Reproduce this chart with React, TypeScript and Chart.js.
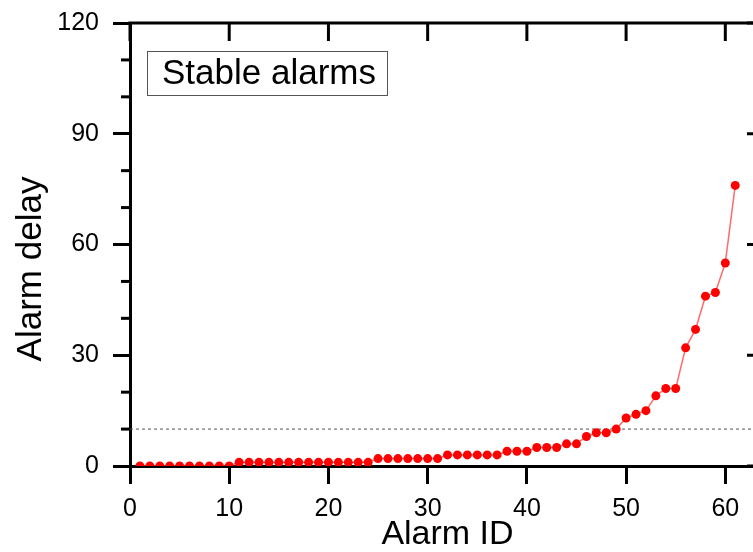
import { useEffect, useRef } from "react";
import { Chart, registerables } from "chart.js";

Chart.register(...registerables);

const alarmIds = [
  1, 2, 3, 4, 5, 6, 7, 8, 9, 10,
  11, 12, 13, 14, 15, 16, 17, 18, 19, 20,
  21, 22, 23, 24, 25, 26, 27, 28, 29, 30,
  31, 32, 33, 34, 35, 36, 37, 38, 39, 40,
  41, 42, 43, 44, 45, 46, 47, 48, 49, 50,
  51, 52, 53, 54, 55, 56, 57, 58, 59, 60,
  61,
];
const alarmDelays = [
  0, 0, 0, 0, 0, 0, 0, 0, 0, 0,
  1, 1, 1, 1, 1, 1, 1, 1, 1, 1,
  1, 1, 1, 1, 2, 2, 2, 2, 2, 2,
  2, 3, 3, 3, 3, 3, 3, 4, 4, 4,
  5, 5, 5, 6, 6, 8, 9, 9, 10, 13,
  14, 15, 19, 21, 21, 32, 37, 46, 47, 55,
  76,
];
const thresholdValue = 10;
const xTicks = [0, 10, 20, 30, 40, 50, 60];
const yTicks = [0, 30, 60, 90, 120];
const yMinorTicks = [10, 20, 40, 50, 70, 80, 100, 110];
const legendText = "Stable alarms";
const xTitle = "Alarm ID";
const yTitle = "Alarm delay";

const FONT = "Arial, 'Liberation Sans', sans-serif";

const framePlugin = {
  id: "frame",
  afterDraw(chart: any) {
    const { ctx, chartArea } = chart;
    const x = chart.scales.x;
    const y = chart.scales.y;
    ctx.save();
    ctx.strokeStyle = "#000";
    ctx.lineWidth = 3;
    // top border
    ctx.beginPath();
    ctx.moveTo(chartArea.left - 1.5, chartArea.top);
    ctx.lineTo(chartArea.right + 1.5, chartArea.top);
    ctx.stroke();
    // right border
    ctx.beginPath();
    ctx.moveTo(chartArea.right, chartArea.top);
    ctx.lineTo(chartArea.right, chartArea.bottom);
    ctx.stroke();
    // top inward ticks
    xTicks.forEach((v) => {
      const px = x.getPixelForValue(v);
      ctx.beginPath();
      ctx.moveTo(px, chartArea.top);
      ctx.lineTo(px, chartArea.top + 18);
      ctx.stroke();
    });
    // right inward ticks
    yTicks.forEach((v) => {
      const py = y.getPixelForValue(v);
      ctx.beginPath();
      ctx.moveTo(chartArea.right, py);
      ctx.lineTo(chartArea.right - 18, py);
      ctx.stroke();
    });
    // left minor outward ticks
    yMinorTicks.forEach((v) => {
      const py = y.getPixelForValue(v);
      ctx.beginPath();
      ctx.moveTo(chartArea.left, py);
      ctx.lineTo(chartArea.left - 9, py);
      ctx.stroke();
    });
    // y axis title
    ctx.fillStyle = "#000";
    ctx.save();
    ctx.translate(31, 269);
    ctx.rotate(-Math.PI / 2);
    ctx.font = `35px ${FONT}`;
    ctx.textAlign = "center";
    ctx.textBaseline = "middle";
    ctx.fillText(yTitle, 0, 0);
    ctx.restore();
    // legend box
    ctx.lineWidth = 1;
    ctx.strokeStyle = "#555";
    ctx.strokeRect(147.5, 51.5, 240, 44);
    ctx.font = `35px ${FONT}`;
    ctx.textBaseline = "alphabetic";
    ctx.textAlign = "left";
    ctx.fillText(legendText, 162, 84);
    ctx.restore();
  },
};

export default function App() {
  const canvasRef = useRef<HTMLCanvasElement | null>(null);

  useEffect(() => {
    const canvas = canvasRef.current;
    if (!canvas) return;
    const chart = new Chart(canvas, {
      type: "line",
      data: {
        datasets: [
          {
            label: legendText,
            data: alarmIds.map((id, i) => ({ x: id, y: alarmDelays[i] })),
            borderColor: "rgba(255,70,70,0.8)",
            borderWidth: 1.5,
            pointRadius: 4.5,
            pointBackgroundColor: "#ff0000",
            pointBorderColor: "#ff0000",
            pointBorderWidth: 0,
            order: 0,
          },
          {
            label: "threshold",
            data: [
              { x: 0, y: thresholdValue },
              { x: 64, y: thresholdValue },
            ],
            borderColor: "#555",
            borderWidth: 1,
            borderDash: [3, 3],
            pointRadius: 0,
            order: 1,
          },
        ],
      },
      options: {
        animation: false,
        responsive: false,
        layout: { padding: { top: 23, right: 35, left: 0, bottom: 0 } },
        plugins: {
          legend: { display: false },
          tooltip: { enabled: false },
        },
        scales: {
          x: {
            type: "linear",
            min: 0,
            max: 64,
            afterBuildTicks: (s: any) => {
              s.ticks = xTicks.map((v) => ({ value: v }));
            },
            afterFit: (s: any) => {
              s.height = 86;
              s.paddingLeft = 0;
              s.paddingRight = 0;
            },
            ticks: {
              font: { family: FONT, size: 25 },
              color: "#000",
              padding: 10,
              maxRotation: 0,
            },
            grid: {
              drawOnChartArea: false,
              tickLength: 18,
              tickWidth: 3,
              tickColor: "#000",
            },
            border: { width: 3, color: "#000" },
            title: {
              display: true,
              text: xTitle,
              color: "#000",
              font: { family: FONT, size: 34, lineHeight: 1 },
              padding: 0,
            },
          },
          y: {
            type: "linear",
            min: 0,
            max: 120,
            afterBuildTicks: (s: any) => {
              s.ticks = yTicks.map((v) => ({ value: v }));
            },
            afterFit: (s: any) => {
              s.width = 130;
              s.paddingTop = 0;
              s.paddingBottom = 0;
            },
            ticks: {
              font: { family: FONT, size: 25 },
              color: "#000",
              padding: 14,
            },
            grid: {
              drawOnChartArea: false,
              tickLength: 17,
              tickWidth: 3,
              tickColor: "#000",
            },
            border: { width: 3, color: "#000" },
            title: { display: false },
          },
        },
      },
      plugins: [framePlugin],
    });
    return () => chart.destroy();
  }, []);

  return (
    <div
      style={{
        position: "fixed",
        left: 0,
        top: 0,
        width: 753,
        height: 552,
        overflow: "hidden",
        background: "#fff",
      }}
    >
      <canvas
        ref={canvasRef}
        width={800}
        height={552}
        style={{ width: 800, height: 552, display: "block" }}
      />
    </div>
  );
}
